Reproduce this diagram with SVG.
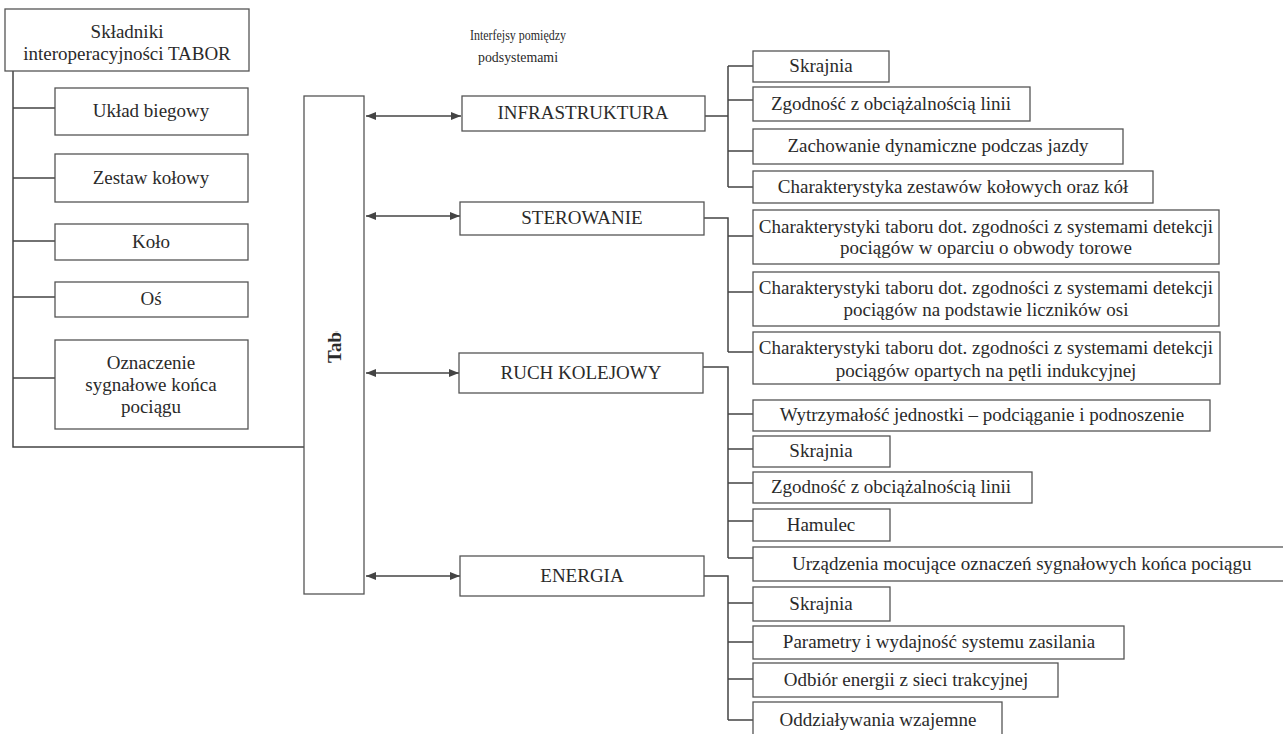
<svg xmlns="http://www.w3.org/2000/svg" width="1283" height="734" viewBox="0 0 1283 734">
<style>
.b{fill:#fff;stroke:#555;stroke-width:1.3}
text{font-family:'Liberation Serif','Times New Roman',Times,'DejaVu Serif',serif;font-size:19px;fill:#2a2a2a;text-anchor:middle}
.h{font-size:14.5px}
.c{fill:none;stroke:#444;stroke-width:1.5}
</style>
<defs>
<marker id="ah" viewBox="0 0 10 8" refX="10" refY="4" markerWidth="10" markerHeight="8" markerUnits="userSpaceOnUse" orient="auto-start-reverse"><path d="M0,0 L10,4 L0,8 z" fill="#444"/></marker>
<clipPath id="tabclip"><rect x="300" y="331" width="70" height="60"/></clipPath>
</defs>
<rect width="1283" height="734" fill="#fff"/>

<g id="connectors">
<path class="c" d="M13,71 V447 H304 M13,108 H55 M13,178 H55 M13,241 H55 M13,297 H55 M13,378 H55"/>
<line class="c" x1="366" y1="116" x2="461" y2="116" marker-start="url(#ah)" marker-end="url(#ah)"/>
<line class="c" x1="366" y1="216" x2="460" y2="216" marker-start="url(#ah)" marker-end="url(#ah)"/>
<line class="c" x1="366" y1="373" x2="459" y2="373" marker-start="url(#ah)" marker-end="url(#ah)"/>
<line class="c" x1="366" y1="576" x2="460" y2="576" marker-start="url(#ah)" marker-end="url(#ah)"/>
<path class="c" d="M705,116 H728 M728,66 V187 M728,66 H753 M728,100 H753 M728,151 H753 M728,187 H753"/>
<path class="c" d="M704,218 H728 V352 M728,236 H753 M728,292 H753 M728,352 H753"/>
<path class="c" d="M703,367 H728 V558 M728,414 H753 M728,449 H753 M728,483 H753 M728,521 H753 M728,558 H753"/>
<path class="c" d="M704,576 H728 V720 M728,603 H753 M728,642 H753 M728,679 H753 M728,720 H753"/>
</g>

<g id="skladniki"><rect class="b" x="5" y="9" width="244" height="62"/><text x="127" y="38">Składniki</text><text x="127" y="60">interoperacyjności TABOR</text></g>
<g id="uklad"><rect class="b" x="55" y="88" width="193" height="47"/><text x="151" y="117">Układ biegowy</text></g>
<g id="zestaw"><rect class="b" x="55" y="154" width="193" height="48"/><text x="151" y="184">Zestaw kołowy</text></g>
<g id="kolo"><rect class="b" x="55" y="224" width="193" height="36"/><text x="151" y="248">Koło</text></g>
<g id="os"><rect class="b" x="55" y="282" width="193" height="35"/><text x="151" y="305">Oś</text></g>
<g id="oznaczenie"><rect class="b" x="55" y="340" width="193" height="89"/><text x="151" y="369">Oznaczenie</text><text x="151" y="391">sygnałowe końca</text><text x="151" y="413">pociągu</text></g>

<g id="tabor"><rect class="b" x="304" y="96" width="60" height="498"/><g clip-path="url(#tabclip)"><text style="font-weight:bold;text-anchor:start;font-size:19px" transform="translate(341,363) rotate(-90)">Tabor</text></g></g>

<g id="header"><text class="h" x="518" y="40" textLength="96" lengthAdjust="spacingAndGlyphs">Interfejsy pomiędzy</text><text class="h" x="518" y="62" textLength="80" lengthAdjust="spacingAndGlyphs">podsystemami</text></g>

<g id="infra"><rect class="b" x="462" y="96" width="243" height="35"/><text x="583" y="119">INFRASTRUKTURA</text></g>
<g id="sterowanie"><rect class="b" x="460" y="202" width="244" height="33"/><text x="582" y="224">STEROWANIE</text></g>
<g id="ruch"><rect class="b" x="459" y="353" width="244" height="40"/><text x="581" y="379">RUCH KOLEJOWY</text></g>
<g id="energia"><rect class="b" x="460" y="556" width="244" height="40"/><text x="582" y="582">ENERGIA</text></g>

<g id="i1"><rect class="b" x="753" y="51" width="136" height="31"/><text x="821" y="72">Skrajnia</text></g>
<g id="i2"><rect class="b" x="753" y="87" width="277" height="34"/><text x="891" y="110">Zgodność z obciążalnością linii</text></g>
<g id="i3"><rect class="b" x="753" y="129" width="370" height="35"/><text x="938" y="152">Zachowanie dynamiczne podczas jazdy</text></g>
<g id="i4"><rect class="b" x="753" y="171" width="400" height="32"/><text x="953" y="193">Charakterystyka zestawów kołowych oraz kół</text></g>

<g id="s1"><rect class="b" x="753" y="210" width="466" height="54"/><text x="986" y="233">Charakterystyki taboru dot. zgodności z systemami detekcji</text><text x="986" y="254">pociągów w oparciu o obwody torowe</text></g>
<g id="s2"><rect class="b" x="753" y="272" width="466" height="54"/><text x="986" y="294">Charakterystyki taboru dot. zgodności z systemami detekcji</text><text x="986" y="316">pociągów na podstawie liczników osi</text></g>
<g id="s3"><rect class="b" x="753" y="332" width="467" height="52"/><text x="986" y="354">Charakterystyki taboru dot. zgodności z systemami detekcji</text><text x="986" y="377">pociągów opartych na pętli indukcyjnej</text></g>

<g id="r1"><rect class="b" x="753" y="400" width="457" height="31"/><text x="982" y="421">Wytrzymałość jednostki – podciąganie i podnoszenie</text></g>
<g id="r2"><rect class="b" x="753" y="436" width="137" height="31"/><text x="821" y="457">Skrajnia</text></g>
<g id="r3"><rect class="b" x="753" y="472" width="279" height="31"/><text x="891" y="493">Zgodność z obciążalnością linii</text></g>
<g id="r4"><rect class="b" x="753" y="509" width="137" height="32"/><text x="821" y="531">Hamulec</text></g>
<g id="r5"><rect class="b" x="753" y="547" width="560" height="34"/><text style="text-anchor:start" x="792" y="570">Urządzenia mocujące oznaczeń sygnałowych końca pociągu</text></g>

<g id="e1"><rect class="b" x="753" y="587" width="137" height="34"/><text x="821" y="610">Skrajnia</text></g>
<g id="e2"><rect class="b" x="753" y="626" width="371" height="33"/><text x="939" y="648">Parametry i wydajność systemu zasilania</text></g>
<g id="e3"><rect class="b" x="753" y="663" width="305" height="34"/><text x="906" y="686">Odbiór energii z sieci trakcyjnej</text></g>
<g id="e4"><rect class="b" x="753" y="702" width="249" height="40"/><text x="878" y="726">Oddziaływania wzajemne</text></g>
</svg>
